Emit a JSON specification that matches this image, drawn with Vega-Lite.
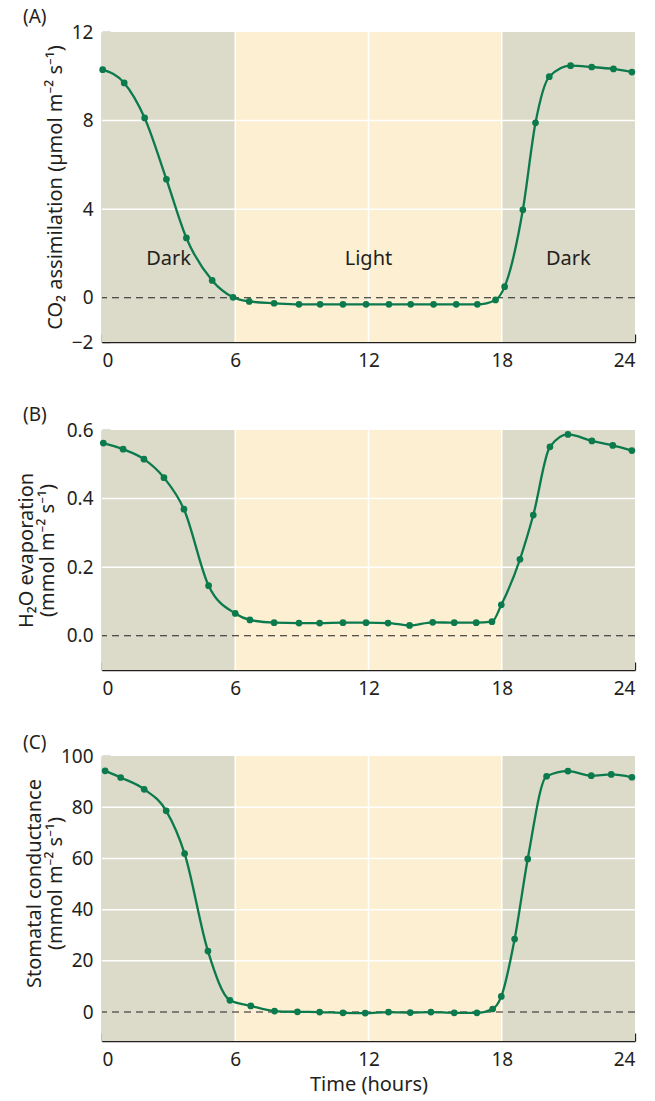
{
  "$schema": "https://vega.github.io/schema/vega-lite/v6.json",
  "padding": {"left": 15, "top": 8, "right": 5, "bottom": 5},
  "background": "white",
  "spacing": 36,
  "datasets": {
    "regions": [
      {"x0": 0, "x1": 6, "p": "dark"},
      {"x0": 6, "x1": 18, "p": "light"},
      {"x0": 18, "x1": 24, "p": "dark"}
    ],
    "vlines": [{"h": 6}, {"h": 12}, {"h": 18}],
    "gridA": [{"v": 4}, {"v": 8}],
    "gridB": [{"v": 0.2}, {"v": 0.4}],
    "gridC": [{"v": 20}, {"v": 40}, {"v": 60}, {"v": 80}],
    "zero": [{"v": 0}],
    "labelsA": [
      {"h": 3, "v": 1.77, "t": "Dark"},
      {"h": 12, "v": 1.77, "t": "Light"},
      {"h": 21, "v": 1.77, "t": "Dark"}
    ],
    "a": [
      {"h": 0.03, "v": 10.3}, {"h": 1.0, "v": 9.7}, {"h": 1.92, "v": 8.12}, {"h": 2.9, "v": 5.35},
      {"h": 3.8, "v": 2.7}, {"h": 4.96, "v": 0.78}, {"h": 5.9, "v": 0.02}, {"h": 6.63, "v": -0.17},
      {"h": 7.75, "v": -0.25}, {"h": 8.87, "v": -0.3}, {"h": 9.82, "v": -0.3}, {"h": 10.85, "v": -0.3},
      {"h": 11.89, "v": -0.3}, {"h": 12.92, "v": -0.3}, {"h": 13.9, "v": -0.3}, {"h": 14.93, "v": -0.3},
      {"h": 15.95, "v": -0.3}, {"h": 16.9, "v": -0.3}, {"h": 17.72, "v": -0.1}, {"h": 18.13, "v": 0.5},
      {"h": 18.95, "v": 3.97}, {"h": 19.52, "v": 7.9}, {"h": 20.14, "v": 9.98}, {"h": 21.1, "v": 10.48},
      {"h": 22.05, "v": 10.42}, {"h": 23.03, "v": 10.33}, {"h": 23.86, "v": 10.19}
    ],
    "b": [
      {"h": 0.06, "v": 0.562}, {"h": 0.95, "v": 0.544}, {"h": 1.89, "v": 0.515}, {"h": 2.79, "v": 0.461},
      {"h": 3.69, "v": 0.369}, {"h": 4.8, "v": 0.146}, {"h": 6.0, "v": 0.065}, {"h": 6.66, "v": 0.046},
      {"h": 7.75, "v": 0.038}, {"h": 8.87, "v": 0.037}, {"h": 9.8, "v": 0.037}, {"h": 10.85, "v": 0.038},
      {"h": 11.89, "v": 0.038}, {"h": 12.88, "v": 0.037}, {"h": 13.85, "v": 0.03}, {"h": 14.89, "v": 0.039},
      {"h": 15.86, "v": 0.038}, {"h": 16.85, "v": 0.038}, {"h": 17.56, "v": 0.041}, {"h": 17.98, "v": 0.09},
      {"h": 18.82, "v": 0.223}, {"h": 19.42, "v": 0.352}, {"h": 20.17, "v": 0.551}, {"h": 20.98, "v": 0.587},
      {"h": 22.06, "v": 0.568}, {"h": 23.0, "v": 0.555}, {"h": 23.86, "v": 0.54}
    ],
    "c": [
      {"h": 0.14, "v": 94.2}, {"h": 0.84, "v": 91.6}, {"h": 1.9, "v": 87.0}, {"h": 2.89, "v": 78.6},
      {"h": 3.72, "v": 61.9}, {"h": 4.77, "v": 23.8}, {"h": 5.76, "v": 4.6}, {"h": 6.7, "v": 2.4},
      {"h": 7.77, "v": 0.4}, {"h": 8.8, "v": 0.1}, {"h": 9.8, "v": 0}, {"h": 10.85, "v": -0.3},
      {"h": 11.85, "v": -0.4}, {"h": 12.9, "v": 0}, {"h": 13.88, "v": -0.2}, {"h": 14.81, "v": 0},
      {"h": 15.86, "v": -0.3}, {"h": 16.88, "v": -0.3}, {"h": 17.59, "v": 1.2}, {"h": 17.98, "v": 6.1},
      {"h": 18.58, "v": 28.5}, {"h": 19.17, "v": 59.8}, {"h": 20.02, "v": 92.1}, {"h": 20.98, "v": 94.1},
      {"h": 22.03, "v": 92.3}, {"h": 22.93, "v": 92.8}, {"h": 23.86, "v": 91.7}
    ]
  },
  "vconcat": [
    {
      "title": {"text": "(A)"},
      "width": 533,
      "height": 310,
      "layer": [
        {
          "data": {"name": "regions"},
          "mark": {"type": "rect"},
          "encoding": {
            "x": {"field": "x0", "type": "quantitative", "scale": {"domain": [0, 24], "nice": false, "zero": false}, "axis": {"values": [0, 6, 12, 18, 24], "title": null}},
            "x2": {"field": "x1"},
            "color": {"field": "p", "type": "nominal", "scale": {"domain": ["dark", "light"], "range": ["#dcdac8", "#fdefd2"]}, "legend": null}
          }
        },
        {"data": {"name": "vlines"}, "mark": {"type": "rule", "color": "white", "strokeWidth": 1.5}, "encoding": {"x": {"field": "h", "type": "quantitative"}}},
        {"data": {"name": "gridA"}, "mark": {"type": "rule", "color": "white", "strokeWidth": 1.5}, "encoding": {"y": {"field": "v", "type": "quantitative"}}},
        {"data": {"name": "zero"}, "mark": {"type": "rule", "color": "#231f20", "strokeDash": [7, 5], "strokeWidth": 1.1}, "encoding": {"y": {"field": "v", "type": "quantitative"}}},
        {
          "data": {"name": "a"},
          "mark": {"type": "line", "interpolate": "monotone", "color": "#0b7a4c", "strokeWidth": 2.3},
          "encoding": {
            "x": {"field": "h", "type": "quantitative"},
            "y": {"field": "v", "type": "quantitative", "scale": {"domain": [-2, 12], "nice": false, "zero": false}, "axis": {"values": [-2, 0, 4, 8, 12], "title": "CO₂ assimilation (µmol m⁻² s⁻¹)", "titleX": -37}}
          }
        },
        {
          "data": {"name": "a"},
          "mark": {"type": "point", "filled": true, "opacity": 1, "size": 45, "color": "#0b7a4c"},
          "encoding": {"x": {"field": "h", "type": "quantitative"}, "y": {"field": "v", "type": "quantitative"}}
        },
        {
          "data": {"name": "labelsA"},
          "mark": {"type": "text", "font": "Noto Sans", "fontSize": 20, "color": "#231f20", "baseline": "middle", "align": "center"},
          "encoding": {"x": {"field": "h", "type": "quantitative"}, "y": {"field": "v", "type": "quantitative"}, "text": {"field": "t"}}
        }
      ]
    },
    {
      "title": {"text": "(B)"},
      "width": 533,
      "height": 240,
      "layer": [
        {
          "data": {"name": "regions"},
          "mark": {"type": "rect"},
          "encoding": {
            "x": {"field": "x0", "type": "quantitative", "scale": {"domain": [0, 24], "nice": false, "zero": false}, "axis": {"values": [0, 6, 12, 18, 24], "title": null}},
            "x2": {"field": "x1"},
            "color": {"field": "p", "type": "nominal", "scale": {"domain": ["dark", "light"], "range": ["#dcdac8", "#fdefd2"]}, "legend": null}
          }
        },
        {"data": {"name": "vlines"}, "mark": {"type": "rule", "color": "white", "strokeWidth": 1.5}, "encoding": {"x": {"field": "h", "type": "quantitative"}}},
        {"data": {"name": "gridB"}, "mark": {"type": "rule", "color": "white", "strokeWidth": 1.5}, "encoding": {"y": {"field": "v", "type": "quantitative"}}},
        {"data": {"name": "zero"}, "mark": {"type": "rule", "color": "#231f20", "strokeDash": [7, 5], "strokeWidth": 1.1}, "encoding": {"y": {"field": "v", "type": "quantitative"}}},
        {
          "data": {"name": "b"},
          "mark": {"type": "line", "interpolate": "monotone", "color": "#0b7a4c", "strokeWidth": 2.3},
          "encoding": {
            "x": {"field": "h", "type": "quantitative"},
            "y": {"field": "v", "type": "quantitative", "scale": {"domain": [-0.1, 0.6], "nice": false, "zero": false}, "axis": {"values": [0, 0.2, 0.4, 0.6], "format": ".1f", "title": ["H₂O evaporation", "(mmol m⁻² s⁻¹)"], "titleX": -66}}
          }
        },
        {
          "data": {"name": "b"},
          "mark": {"type": "point", "filled": true, "opacity": 1, "size": 45, "color": "#0b7a4c"},
          "encoding": {"x": {"field": "h", "type": "quantitative"}, "y": {"field": "v", "type": "quantitative"}}
        }
      ]
    },
    {
      "title": {"text": "(C)", "offset": -6},
      "width": 533,
      "height": 285,
      "layer": [
        {
          "data": {"name": "regions"},
          "mark": {"type": "rect"},
          "encoding": {
            "x": {"field": "x0", "type": "quantitative", "scale": {"domain": [0, 24], "nice": false, "zero": false}, "axis": {"values": [0, 6, 12, 18, 24], "title": "Time (hours)"}},
            "x2": {"field": "x1"},
            "color": {"field": "p", "type": "nominal", "scale": {"domain": ["dark", "light"], "range": ["#dcdac8", "#fdefd2"]}, "legend": null}
          }
        },
        {"data": {"name": "vlines"}, "mark": {"type": "rule", "color": "white", "strokeWidth": 1.5}, "encoding": {"x": {"field": "h", "type": "quantitative"}}},
        {"data": {"name": "gridC"}, "mark": {"type": "rule", "color": "white", "strokeWidth": 1.5}, "encoding": {"y": {"field": "v", "type": "quantitative"}}},
        {"data": {"name": "zero"}, "mark": {"type": "rule", "color": "#231f20", "strokeDash": [7, 5], "strokeWidth": 1.1}, "encoding": {"y": {"field": "v", "type": "quantitative"}}},
        {
          "data": {"name": "c"},
          "mark": {"type": "line", "interpolate": "monotone", "color": "#0b7a4c", "strokeWidth": 2.3},
          "encoding": {
            "x": {"field": "h", "type": "quantitative"},
            "y": {"field": "v", "type": "quantitative", "scale": {"domain": [-11.3, 100], "nice": false, "zero": false}, "axis": {"values": [0, 20, 40, 60, 80, 100], "title": ["Stomatal conductance", "(mmol m⁻² s⁻¹)"], "titleX": -58, "titleY": 127}}
          }
        },
        {
          "data": {"name": "c"},
          "mark": {"type": "point", "filled": true, "opacity": 1, "size": 45, "color": "#0b7a4c"},
          "encoding": {"x": {"field": "h", "type": "quantitative"}, "y": {"field": "v", "type": "quantitative"}}
        }
      ]
    }
  ],
  "config": {
    "view": {"stroke": null},
    "axis": {
      "zindex": 1,
      "grid": false,
      "domainColor": "#231f20",
      "domainWidth": 1.3,
      "tickColor": "#231f20",
      "tickWidth": 1.3,
      "tickSize": -8,
      "labelFont": "Noto Sans",
      "labelFontSize": 19,
      "labelColor": "#231f20",
      "titleFont": "Noto Sans",
      "titleFontSize": 20,
      "titleFontWeight": "normal",
      "titleColor": "#231f20",
      "titleLineHeight": 21
    },
    "axisX": {"labelPadding": 17, "titlePadding": 5},
    "axisY": {"labelPadding": 17},
    "title": {"font": "Noto Sans", "fontSize": 19, "fontWeight": "normal", "anchor": "start", "frame": "group", "dx": -79, "offset": -4, "color": "#231f20"}
  }
}
